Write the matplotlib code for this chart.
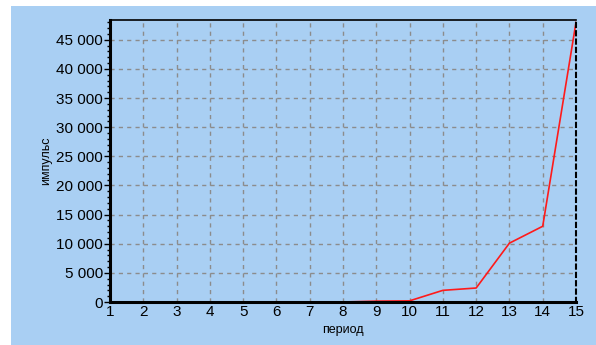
import matplotlib.pyplot as plt
from matplotlib.patches import Rectangle
from matplotlib.ticker import FuncFormatter, MultipleLocator
import numpy as np

plt.rcParams['font.family'] = ['Liberation Sans', 'DejaVu Sans']

period = [1, 2, 3, 4, 5, 6, 7, 8, 9, 10, 11, 12, 13, 14, 15]
impulse = [0, 0, 0, 0, 0, 0, 0, 0, 150, 200, 2000, 2400, 10100, 13000, 48000]

blue = '#a9cff3'

fig = plt.figure(figsize=(5.96, 3.45), dpi=100)
fig.patches.append(Rectangle((11 / 596, 0), 1 - 11 / 596, 339 / 345,
                             transform=fig.transFigure, facecolor=blue,
                             edgecolor='none', zorder=-5))

ax = fig.add_axes([110 / 596, 43 / 345, 466 / 596, 282 / 345])
ax.set_facecolor(blue)

ax.plot(period, impulse, color='#ff1a1a', lw=1.2, zorder=2)

ax.set_xlim(1, 15)
ax.set_ylim(0, 48400)
ax.set_xticks(period)
ax.yaxis.set_major_locator(MultipleLocator(5000))
ax.yaxis.set_minor_locator(MultipleLocator(1000))
ax.yaxis.set_major_formatter(FuncFormatter(lambda v, p: f'{int(v):,}'.replace(',', ' ')))

ax.grid(True, which='major', color='#8c8c8c', ls=(0, (3, 3)), lw=1)
ax.set_axisbelow(True)

for side in ['left', 'bottom']:
    ax.spines[side].set_linewidth(2.2)
    ax.spines[side].set_zorder(3)
ax.spines['top'].set_linewidth(1.2)
ax.spines['right'].set_linewidth(1.5)
ax.spines['right'].set_linestyle((0, (2, 2)))

ax.tick_params(axis='both', labelsize=11, colors='black', pad=1)
ax.tick_params(axis='y', which='major', length=4, width=1)
ax.tick_params(axis='y', which='minor', length=2, width=1)
ax.tick_params(axis='x', length=0, pad=2)

ax.set_xlabel('период', fontsize=9, labelpad=4)
ax.set_ylabel('импульс', fontsize=9, labelpad=3)

fig.savefig('out.png', dpi=100)
